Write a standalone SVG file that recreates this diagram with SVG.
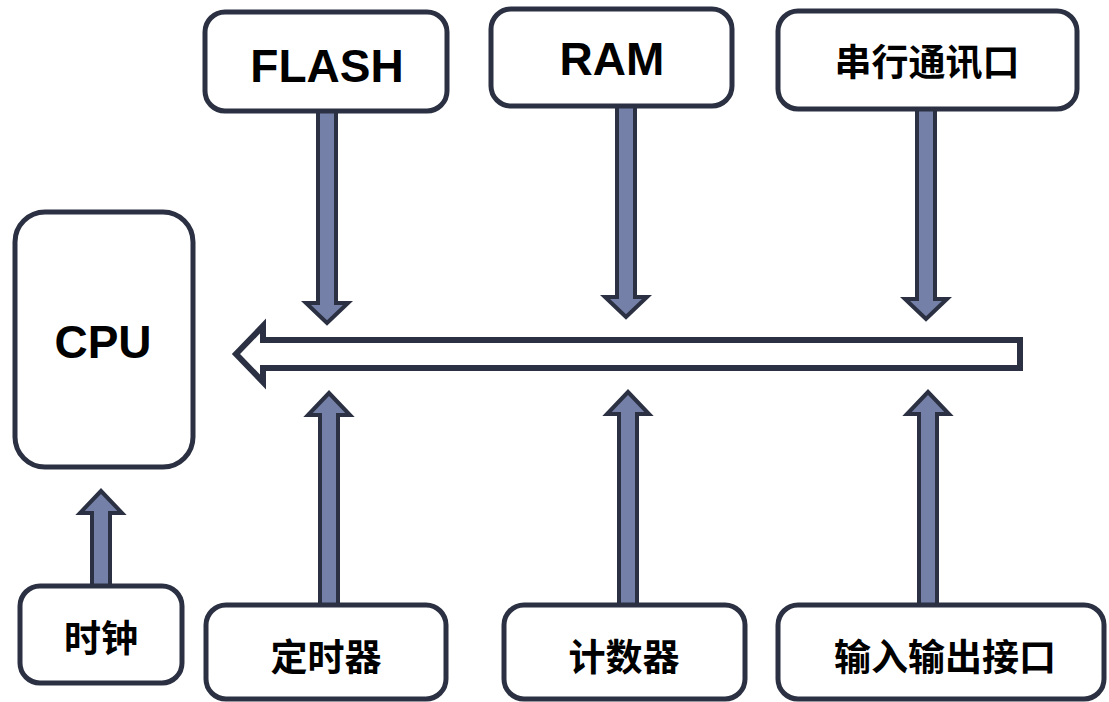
<svg xmlns="http://www.w3.org/2000/svg" width="1109" height="702" viewBox="0 0 1109 702">
<style>
.box{fill:#ffffff;stroke:#2b3142;stroke-width:5}
.arr{fill:#7480a8;stroke:#2b3142;stroke-width:4;stroke-linejoin:miter}
.bus{fill:#ffffff;stroke:#2b3142;stroke-width:6;stroke-linejoin:miter}
.en{font-family:"Liberation Sans",Arial,sans-serif;font-weight:bold;font-size:46px;fill:#000;text-anchor:middle}
.zh{font-family:"Noto Sans CJK SC","Liberation Sans",sans-serif;font-weight:bold;font-size:37px;fill:#000;text-anchor:middle}
</style>
<rect width="1109" height="702" fill="#ffffff"/>
<g id="connectors">
<path class="arr" d="M318,105 L318,303 L306,303 L327,323 L348,303 L336,303 L336,105 Z"/>
<path class="arr" d="M617,100 L617,297 L605,297 L626,317 L647,297 L635,297 L635,100 Z"/>
<path class="arr" d="M917,104 L917,299 L905,299 L926,319 L947,299 L935,299 L935,104 Z"/>
<path class="arr" d="M320,612 L320,415 L308,415 L329,393 L350,415 L338,415 L338,612 Z"/>
<path class="arr" d="M619,612 L619,414 L607,414 L628,392 L649,414 L637,414 L637,612 Z"/>
<path class="arr" d="M919,612 L919,414 L907,414 L928,392 L949,414 L937,414 L937,612 Z"/>
<path class="arr" d="M92,590 L92,513 L80,513 L101,491 L122,513 L110,513 L110,590 Z"/>
<path class="bus" d="M1020,340 L263,340 L263,326 L236,354 L263,382 L263,368 L1020,368 Z"/>
</g>
<g id="flash"><rect class="box" x="205" y="12" width="242" height="99" rx="20"/><text class="en" x="327" y="82">FLASH</text></g>
<g id="ram"><rect class="box" x="491" y="9" width="241" height="97" rx="20"/><text class="en" x="612" y="75">RAM</text></g>
<g id="serial"><rect class="box" x="778" y="11" width="299" height="98" rx="20"/><text class="zh" x="927" y="76">串行通讯口</text></g>
<g id="cpu"><rect class="box" x="15" y="212" width="178" height="255" rx="30"/><text class="en" x="103" y="358">CPU</text></g>
<g id="clock"><rect class="box" x="20" y="586" width="162" height="97" rx="20"/><text class="zh" x="101" y="652">时钟</text></g>
<g id="timer"><rect class="box" x="206" y="605" width="240" height="94" rx="20"/><text class="zh" x="326" y="671">定时器</text></g>
<g id="counter"><rect class="box" x="504" y="605" width="241" height="94" rx="20"/><text class="zh" x="624" y="671">计数器</text></g>
<g id="io"><rect class="box" x="778" y="605" width="326" height="94" rx="20"/><text class="zh" x="945" y="671">输入输出接口</text></g>
</svg>
